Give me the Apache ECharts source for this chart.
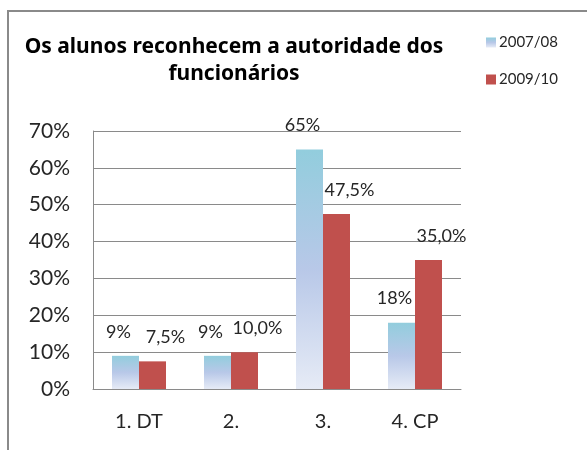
<!DOCTYPE html>
<html>
<head>
<meta charset="utf-8">
<script src="https://cdn.jsdelivr.net/npm/echarts@6/dist/echarts.min.js"></script>
<style>
html,body{margin:0;padding:0;background:#fff;}
#c{width:587px;height:450px;}
</style>
</head>
<body>
<div id="c"></div>
<script>
const categories = ['1. DT', '2.', '3.', '4. CP'];
const seriesNames = ['2007/08', '2009/10'];
const values0708 = [9, 9, 65, 18];
const values0910 = [7.5, 10.0, 47.5, 35.0];
const yTicks = [0, 10, 20, 30, 40, 50, 60, 70];
const titleText = 'Os alunos reconhecem a autoridade dos\nfuncionários';

const chart = echarts.init(document.getElementById('c'), null, {renderer: 'canvas'});
const FONT = 'Lato';
const labelBase = {
  show: true,
  position: 'top',
  distance: 15,
  fontFamily: FONT,
  fontSize: 18,
  color: '#262626'
};
chart.setOption({
  animation: false,
  backgroundColor: '#fff',
  graphic: [{
    type: 'rect',
    shape: {x: 8, y: 11, width: 700, height: 600},
    style: {fill: 'none', stroke: '#8a8a8a', lineWidth: 2},
    silent: true,
    z: -10
  }],
  title: {
    text: titleText,
    left: 234,
    top: 34,
    padding: 0,
    textAlign: 'center',
    textStyle: {
      fontFamily: 'Noto Sans',
      fontWeight: 'bold',
      fontSize: 21,
      lineHeight: 27,
      color: '#000'
    }
  },
  legend: {
    data: seriesNames,
    orient: 'vertical',
    left: 481,
    top: 30,
    itemWidth: 10,
    itemHeight: 10,
    itemGap: 22,
    icon: 'rect',
    textStyle: {fontFamily: FONT, fontSize: 15, color: '#262626', padding: [0,0,0,-2]}
  },
  grid: {left: 93, right: 126, top: 131, bottom: 61, containLabel: false},
  xAxis: {
    type: 'category',
    data: categories,
    axisLine: {lineStyle: {color: '#8a8a8a', width: 1}},
    axisTick: {show: false},
    axisLabel: {fontFamily: FONT, fontSize: 20, color: '#262626', margin: 23}
  },
  yAxis: {
    type: 'value',
    min: yTicks[0],
    max: yTicks[yTicks.length - 1],
    interval: 10,
    axisLine: {show: true, lineStyle: {color: '#8a8a8a', width: 1}},
    axisTick: {show: false},
    splitLine: {lineStyle: {color: '#8a8a8a', width: 1}},
    axisLabel: {fontFamily: FONT, fontSize: 21, color: '#262626', margin: 23,
      formatter: v => v + '%'}
  },
  series: [
    {
      name: seriesNames[0],
      type: 'bar',
      data: values0708,
      barWidth: 27,
      barGap: '0%',
      itemStyle: {
        color: new echarts.graphic.LinearGradient(0, 0, 0, 1, [
          {offset: 0, color: '#92CDDD'},
          {offset: 0.5, color: '#B8C8E8'},
          {offset: 1, color: '#E6EBF6'}
        ])
      },
      label: Object.assign({}, labelBase, {
        offset: [-7, 0],
        formatter: p => p.value + '%'
      })
    },
    {
      name: seriesNames[1],
      type: 'bar',
      data: values0910,
      barWidth: 27,
      barGap: '0%',
      itemStyle: {color: '#C0504D'},
      label: Object.assign({}, labelBase, {
        offset: [13, 0],
        formatter: p => p.value.toFixed(1).replace('.', ',') + '%'
      })
    }
  ]
});
</script>
</body>
</html>
